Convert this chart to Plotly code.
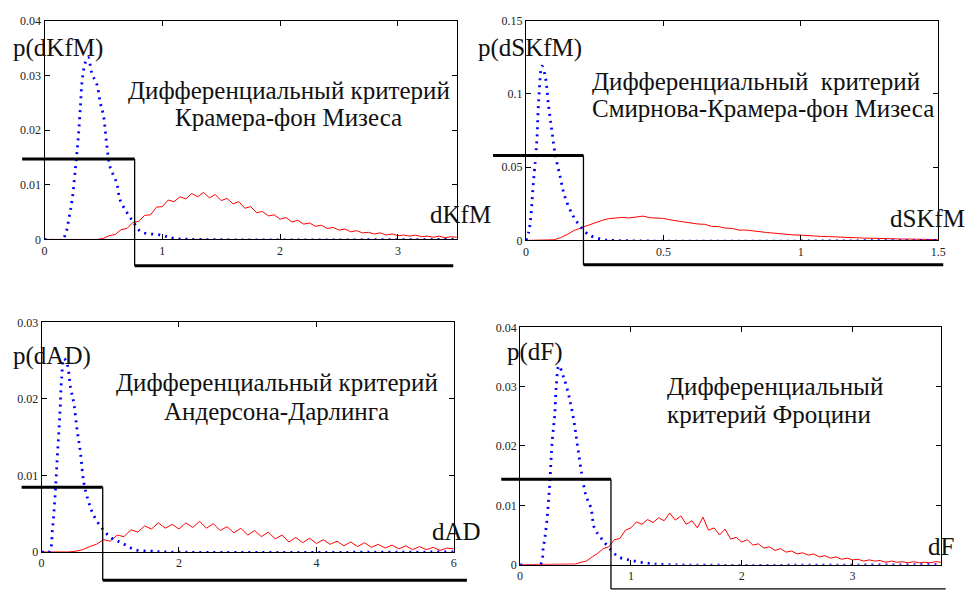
import plotly.graph_objects as go

W, H = 971, 598

# ---------------- data ----------------
# Panel 1: Cramer-von Mises (dKfM)
p1_blue_x = [0, 0.15, 0.18, 0.207, 0.235, 0.263, 0.286, 0.305, 0.319, 0.347, 0.37, 0.403, 0.445, 0.473, 0.50,
             0.53, 0.557, 0.613, 0.64, 0.697, 0.753, 0.82, 0.99, 1.1, 1.3, 3.5]
p1_blue_y = [0, 0, 0.0011, 0.0038, 0.0073, 0.0132, 0.0185, 0.0244, 0.029, 0.0324, 0.0333, 0.0303, 0.0283, 0.025,
             0.0227, 0.017, 0.0132, 0.0103, 0.0073, 0.005, 0.0032, 0.0014, 0.0008, 0.0002, 0, 0]
p1_red_x = [0, 0.45, 0.5, 0.55, 0.6, 0.65, 0.7, 0.75, 0.8, 0.85, 0.9, 0.95, 1.0, 1.05, 1.1, 1.15, 1.2, 1.25, 1.3,
            1.35, 1.4, 1.45, 1.5, 1.55, 1.6, 1.65, 1.7, 1.75, 1.8, 1.85, 1.9, 1.95, 2.0, 2.05, 2.1, 2.15, 2.2,
            2.25, 2.3, 2.35, 2.4, 2.45, 2.5, 2.55, 2.6, 2.65, 2.7, 2.75, 2.8, 2.85, 2.9, 2.95, 3.0, 3.05, 3.1,
            3.15, 3.2, 3.25, 3.3, 3.35, 3.4, 3.45, 3.5]
p1_red_y = [0, 0, 0.0002, 0.0007, 0.0009, 0.0018, 0.0020, 0.0031, 0.0033, 0.0044, 0.0045, 0.0059, 0.0060, 0.0072,
            0.0069, 0.0078, 0.0074, 0.0084, 0.0078, 0.0086, 0.0076, 0.0082, 0.0071, 0.0075, 0.0065, 0.0069,
            0.0057, 0.0060, 0.0049, 0.0051, 0.0043, 0.0045, 0.0037, 0.0040, 0.0032, 0.0035, 0.0028, 0.0030,
            0.0024, 0.0026, 0.0020, 0.0022, 0.0017, 0.0019, 0.0014, 0.0016, 0.0012, 0.0013, 0.0010, 0.0012,
            0.0008, 0.0010, 0.0007, 0.0008, 0.0006, 0.0008, 0.0005, 0.0006, 0.0004, 0.0006, 0.0003, 0.0005, 0.0004]
p1_step_x = [-0.19, 0.765, 0.765, 3.47]
p1_step_y = [0.0147, 0.0147, -0.0048, -0.0048]

# Panel 2: Smirnov-Cramer-von Mises (dSKfM)
p2_blue_x = [0, 0.01, 0.018, 0.025, 0.034, 0.04, 0.046, 0.058, 0.07, 0.082, 0.094, 0.106, 0.124, 0.141, 0.171,
             0.195, 0.231, 0.28, 0.32, 1.5]
p2_blue_y = [0, 0.0058, 0.017, 0.035, 0.055, 0.070, 0.095, 0.119, 0.112, 0.092, 0.075, 0.059, 0.0436, 0.030,
             0.0169, 0.0102, 0.0036, 0.0007, 0, 0]
p2_red_x = [0, 0.075, 0.1, 0.125, 0.15, 0.175, 0.2, 0.225, 0.25, 0.275, 0.3, 0.325, 0.35, 0.375, 0.4, 0.425,
            0.45, 0.475, 0.5, 0.525, 0.55, 0.575, 0.6, 0.625, 0.65, 0.675, 0.7, 0.725, 0.75, 0.775, 0.8, 0.825,
            0.85, 0.875, 0.9, 0.925, 0.95, 0.975, 1.0, 1.025, 1.05, 1.075, 1.1, 1.125, 1.15, 1.175, 1.2, 1.225,
            1.25, 1.275, 1.3, 1.325, 1.35, 1.375, 1.4, 1.425, 1.45, 1.475, 1.5]
p2_red_y = [0, 0, 0.0004, 0.0018, 0.0040, 0.0068, 0.0085, 0.0104, 0.0124, 0.0136, 0.0148, 0.0152, 0.0157, 0.0153,
            0.0160, 0.0166, 0.0155, 0.0152, 0.0150, 0.0140, 0.0132, 0.0126, 0.0121, 0.0112, 0.0110, 0.0096,
            0.0094, 0.0084, 0.0082, 0.0070, 0.0071, 0.0064, 0.0060, 0.0054, 0.0050, 0.0044, 0.0042, 0.0037,
            0.0036, 0.0032, 0.0031, 0.0027, 0.0026, 0.0023, 0.0022, 0.0019, 0.0018, 0.0016, 0.0015, 0.0013,
            0.0013, 0.0011, 0.0011, 0.0009, 0.0009, 0.0008, 0.0007, 0.0006, 0.0005]
p2_step_x = [-0.12, 0.209, 0.209, 1.518]
p2_step_y = [0.058, 0.058, -0.0167, -0.0167]

# Panel 3: Anderson-Darling (dAD)
p3_blue_x = [0, 0.11, 0.16, 0.197, 0.23, 0.264, 0.293, 0.326, 0.374, 0.422, 0.47, 0.518, 0.566, 0.614, 0.686,
             0.758, 0.878, 1.02, 1.165, 1.357, 1.6, 1.8, 6.0]
p3_blue_y = [0, 0, 0.0031, 0.0074, 0.0125, 0.0176, 0.0228, 0.0253, 0.0245, 0.0215, 0.0194, 0.0159, 0.013, 0.0091,
             0.0065, 0.0048, 0.0031, 0.0018, 0.0012, 0.0003, 0.0001, 0, 0]
p3_red_x = [0, 0.4, 0.5, 0.6, 0.7, 0.8, 0.9, 1.0, 1.1, 1.2, 1.3, 1.4, 1.5, 1.6, 1.7, 1.8, 1.9, 2.0, 2.1, 2.2,
            2.3, 2.4, 2.5, 2.6, 2.7, 2.8, 2.9, 3.0, 3.1, 3.2, 3.3, 3.4, 3.5, 3.6, 3.7, 3.8, 3.9, 4.0, 4.1, 4.2,
            4.3, 4.4, 4.5, 4.6, 4.7, 4.8, 4.9, 5.0, 5.1, 5.2, 5.3, 5.4, 5.5, 5.6, 5.7, 5.8, 5.9, 6.0]
p3_red_y = [0, 0, 0.0001, 0.0003, 0.0007, 0.0010, 0.0016, 0.0014, 0.0022, 0.0020, 0.0029, 0.0026, 0.0034,
            0.0030, 0.0038, 0.0031, 0.0036, 0.0030, 0.0038, 0.0032, 0.0040, 0.0031, 0.0037, 0.0028, 0.0033,
            0.0025, 0.0031, 0.0022, 0.0028, 0.0020, 0.0026, 0.0017, 0.0022, 0.0013, 0.0019, 0.0012, 0.0018,
            0.0011, 0.0016, 0.0010, 0.0014, 0.0008, 0.0013, 0.0007, 0.0012, 0.0006, 0.0010, 0.0005, 0.0009,
            0.0004, 0.0008, 0.0003, 0.0007, 0.0003, 0.0006, 0.0002, 0.0005, 0.0004]
p3_step_x = [-0.29, 0.89, 0.89, 6.19]
p3_step_y = [0.00846, 0.00846, -0.0037, -0.0037]

# Panel 4: Frozini (dF)
p4_blue_x = [0, 0.18, 0.21, 0.238, 0.268, 0.29, 0.313, 0.327, 0.35, 0.393, 0.446, 0.49, 0.52, 0.56, 0.595, 0.64,
             0.67, 0.73, 0.80, 0.89, 1.01, 1.16, 1.3, 3.8]
p4_blue_y = [0, 0, 0.0029, 0.0067, 0.0138, 0.0209, 0.0253, 0.0302, 0.0335, 0.0316, 0.028, 0.0237, 0.0198,
             0.0149, 0.0116, 0.0095, 0.0062, 0.0045, 0.0029, 0.0013, 0.0007, 0.0002, 0, 0]
p4_red_x = [0, 0.45, 0.5, 0.55, 0.6, 0.65, 0.7, 0.75, 0.8, 0.85, 0.9, 0.95, 1.0, 1.05, 1.1, 1.15, 1.2, 1.25, 1.3,
            1.35, 1.4, 1.45, 1.5, 1.55, 1.6, 1.65, 1.7, 1.75, 1.8, 1.85, 1.9, 1.95, 2.0, 2.05, 2.1, 2.15, 2.2,
            2.25, 2.3, 2.35, 2.4, 2.45, 2.5, 2.55, 2.6, 2.65, 2.7, 2.75, 2.8, 2.85, 2.9, 2.95, 3.0, 3.05, 3.1,
            3.15, 3.2, 3.25, 3.3, 3.35, 3.4, 3.45, 3.5, 3.55, 3.6, 3.65, 3.7, 3.75, 3.8]
p4_red_y = [0, 0, 0.0001, 0.0004, 0.0006, 0.0013, 0.0019, 0.0027, 0.0030, 0.0042, 0.0044, 0.0058, 0.0062, 0.0072,
            0.0068, 0.0076, 0.0071, 0.0079, 0.0074, 0.0087, 0.0075, 0.0082, 0.0068, 0.0074, 0.0062, 0.0080,
            0.0058, 0.0062, 0.0050, 0.0060, 0.0043, 0.0046, 0.0038, 0.0042, 0.0033, 0.0035, 0.0028, 0.0030,
            0.0024, 0.0027, 0.0021, 0.0023, 0.0018, 0.0020, 0.0016, 0.0018, 0.0013, 0.0015, 0.0011, 0.0013,
            0.0009, 0.0011, 0.0008, 0.0009, 0.0006, 0.0008, 0.0006, 0.0007, 0.0004, 0.0006, 0.0004, 0.0005,
            0.0003, 0.0005, 0.0003, 0.0004, 0.0003, 0.0005, 0.0004]
p4_step_x = [-0.17, 0.82, 0.82, 3.84]
p4_step_y = [0.0144, 0.0144, -0.0041, -0.0041]

title_lines = [
    ["Дифференциальный критерий", "Крамера-фон Мизеса"],
    ["Дифференциальный\u00a0 критерий", "Смирнова-Крамера-фон Мизеса"],
    ["Дифференциальный критерий", "Андерсона-Дарлинга"],
    ["Дифференциальный", "критерий Фроцини"],
]
ylabels = ["p(dKfM)", "p(dSKfM)", "p(dAD)", "p(dF)"]
xlabels = ["dKfM", "dSKfM", "dAD", "dF"]

# ---------------- layout geometry (pixels) ----------------
panels = [
    dict(px=(42, 459), py=(238, 14), xr=[0, 3.5], yr=[0, 0.04], xd=1, yd=0.01,
         blue=(p1_blue_x, p1_blue_y), red=(p1_red_x, p1_red_y), step=(p1_step_x, p1_step_y),
         title_pos=(289, [85, 113], "center"), yl_pos=(8, 42), xl_pos=(430, 212), bot_w=3),
    dict(px=(529, 946), py=(239, 14), xr=[0, 1.5], yr=[0, 0.15], xd=0.5, yd=0.05,
         blue=(p2_blue_x, p2_blue_y), red=(p2_red_x, p2_red_y), step=(p2_step_x, p2_step_y),
         title_pos=(594, [76, 104], "left"), yl_pos=(478, 42), xl_pos=(895, 217), bot_w=3),
    dict(px=(39, 456), py=(558, 323), xr=[0, 6], yr=[0, 0.03], xd=2, yd=0.01,
         blue=(p3_blue_x, p3_blue_y), red=(p3_red_x, p3_red_y), step=(p3_step_x, p3_step_y),
         title_pos=(277, [385, 414], "center"), yl_pos=(8, 357), xl_pos=(432, 537), bot_w=3),
    dict(px=(523, 949), py=(571, 328), xr=[0, 3.8], yr=[0, 0.04], xd=1, yd=0.01,
         blue=(p4_blue_x, p4_blue_y), red=(p4_red_x, p4_red_y), step=(p4_step_x, p4_step_y),
         title_pos=(670, [389, 417], "left"), yl_pos=(508, 353), xl_pos=(934, 552), bot_w=1.3),
]

SERIF = "Liberation Serif, Times New Roman, serif"
fig = go.Figure()
shapes = []
annotations = []


def fx(px):
    return px / W


def fy(py):
    return 1 - py / H


for i, p in enumerate(panels, start=1):
    xa = "x" if i == 1 else f"x{i}"
    ya = "y" if i == 1 else f"y{i}"
    dom_x = [fx(p["px"][0]), fx(p["px"][1])]
    dom_y = [fy(p["py"][0]), fy(p["py"][1])]
    axis_common = dict(showline=True, linecolor="black", linewidth=1, mirror="ticks", ticks="inside",
                       ticklen=5, tickcolor="black", showgrid=False, zeroline=False,
                       tickfont=dict(family=SERIF, size=12, color="#222"), fixedrange=True)
    fig.update_layout(**{
        ("xaxis" if i == 1 else f"xaxis{i}"): dict(domain=dom_x, range=p["xr"], dtick=p["xd"], tick0=0,
                                                  anchor=ya, **axis_common),
        ("yaxis" if i == 1 else f"yaxis{i}"): dict(domain=dom_y, range=p["yr"], dtick=p["yd"], tick0=0,
                                                  anchor=xa, **axis_common),
    })
    rx, ry = p["red"]
    fig.add_trace(go.Scatter(x=rx, y=ry, mode="lines", line=dict(color="#ff0000", width=1),
                             xaxis=xa, yaxis=ya, showlegend=False, hoverinfo="skip"))
    bx, by = p["blue"]
    fig.add_trace(go.Scatter(x=bx, y=by, mode="lines", line=dict(color="#0000ff", width=2.8, dash="2px,5px"),
                             line_shape="spline", xaxis=xa, yaxis=ya, showlegend=False, hoverinfo="skip"))

    # threshold step line mapped from data to paper coordinates
    def to_paper(x, y, p=p, dom_x=dom_x, dom_y=dom_y):
        X = dom_x[0] + (x - p["xr"][0]) / (p["xr"][1] - p["xr"][0]) * (dom_x[1] - dom_x[0])
        Y = dom_y[0] + (y - p["yr"][0]) / (p["yr"][1] - p["yr"][0]) * (dom_y[1] - dom_y[0])
        return X, Y

    sx, sy = p["step"]
    pts = [to_paper(a, b) for a, b in zip(sx, sy)]
    shapes.append(dict(type="line", xref="paper", yref="paper", x0=pts[0][0], y0=pts[0][1],
                       x1=pts[1][0], y1=pts[1][1], line=dict(color="black", width=3)))
    shapes.append(dict(type="line", xref="paper", yref="paper", x0=pts[1][0], y0=pts[1][1],
                       x1=pts[2][0], y1=pts[2][1], line=dict(color="black", width=1.3)))
    shapes.append(dict(type="line", xref="paper", yref="paper", x0=pts[2][0], y0=pts[2][1],
                       x1=pts[3][0], y1=pts[3][1], line=dict(color="black", width=p["bot_w"])))

    tx, tys, al = p["title_pos"]
    for line, ty in zip(title_lines[i - 1], tys):
        annotations.append(dict(text=line, x=fx(tx), y=fy(ty), xref="paper", yref="paper",
                                xanchor="center" if al == "center" else "left", yanchor="middle",
                                showarrow=False, font=dict(family=SERIF, size=25, color="#111")))
    annotations.append(dict(text=ylabels[i - 1], x=fx(p["yl_pos"][0]), y=fy(p["yl_pos"][1]), xref="paper",
                            yref="paper", xanchor="left", yanchor="middle", showarrow=False,
                            font=dict(family=SERIF, size=25, color="#111")))
    annotations.append(dict(text=xlabels[i - 1], x=fx(p["xl_pos"][0]), y=fy(p["xl_pos"][1]), xref="paper",
                            yref="paper", xanchor="left", yanchor="middle", showarrow=False,
                            font=dict(family=SERIF, size=25, color="#111")))

fig.update_layout(width=W, height=H, margin=dict(l=0, r=0, t=0, b=0), paper_bgcolor="white",
                  plot_bgcolor="white", shapes=shapes, annotations=annotations, showlegend=False)

fig.write_html("out.html", config={"responsive": False, "displayModeBar": False},
               post_script="document.body.style.margin='0px';document.body.style.padding='0px';")
